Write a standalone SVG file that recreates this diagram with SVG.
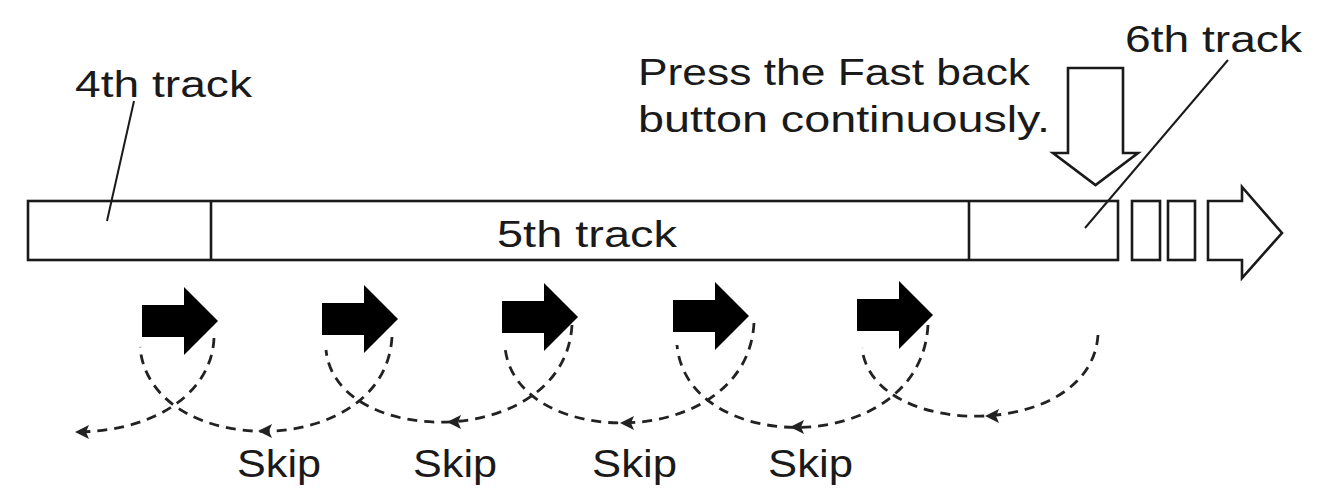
<svg xmlns="http://www.w3.org/2000/svg" width="1335" height="490" viewBox="0 0 1335 490">
  <defs>
    <style>
      .txt { font-family: "Liberation Sans", Arial, sans-serif; font-size: 36px; fill: #1a1a1a; }
      .skip { font-size: 39px; }
      .outline { fill: #fff; stroke: #1a1a1a; stroke-width: 2.6; stroke-linejoin: miter; }
      .lead { fill: none; stroke: #1a1a1a; stroke-width: 2; }
      .dash { fill: none; stroke: #222; stroke-width: 2.8; stroke-dasharray: 10 7; }
      .solid { fill: #000; }
      .head { fill: #222; }
    </style>
    <path id="blk" d="M0 0 H42 V-18 L76 16 L42 50 V32 H0 Z"/>
    <path id="ah" d="M0 0 L14 -7 L11 0 L14 7 Z"/>
  </defs>
  <rect width="1335" height="490" fill="#fff"/>

  <g id="track-bar">
    <rect class="outline" x="28" y="201" width="1090" height="59"/>
    <line class="outline" x1="211" y1="201" x2="211" y2="260"/>
    <line class="outline" x1="969" y1="201" x2="969" y2="260"/>
  </g>
  <g id="more-boxes">
    <rect class="outline" x="1132" y="201" width="28" height="59"/>
    <rect class="outline" x="1168" y="201" width="27" height="59"/>
  </g>
  <g id="forward-arrow">
    <path class="outline" d="M1208 201 H1242 V187 L1282 233 L1242 278 V260 H1208 Z"/>
  </g>
  <g id="press-arrow">
    <path class="outline" d="M1068 68 H1123 V153 H1138 L1095.5 185 L1053 153 H1068 Z"/>
  </g>

  <g id="labels">
    <text class="txt" x="75" y="97" textLength="177" lengthAdjust="spacingAndGlyphs">4th track</text>
    <text class="txt" x="497" y="247" textLength="180" lengthAdjust="spacingAndGlyphs">5th track</text>
    <text class="txt" x="1125" y="52" textLength="177" lengthAdjust="spacingAndGlyphs">6th track</text>
    <text class="txt" x="638" y="85" textLength="392" lengthAdjust="spacingAndGlyphs">Press the Fast back</text>
    <text class="txt" x="638" y="132" textLength="412" lengthAdjust="spacingAndGlyphs">button continuously.</text>
    <text class="txt skip" x="237" y="477" textLength="84" lengthAdjust="spacingAndGlyphs">Skip</text>
    <text class="txt skip" x="413" y="477" textLength="84" lengthAdjust="spacingAndGlyphs">Skip</text>
    <text class="txt skip" x="592" y="477" textLength="85" lengthAdjust="spacingAndGlyphs">Skip</text>
    <text class="txt skip" x="768" y="477" textLength="85" lengthAdjust="spacingAndGlyphs">Skip</text>
  </g>

  <g id="play-arrows">
    <use href="#blk" class="solid" x="142" y="305"/>
    <use href="#blk" class="solid" x="322" y="303"/>
    <use href="#blk" class="solid" x="502" y="301"/>
    <use href="#blk" class="solid" x="673" y="300"/>
    <use href="#blk" class="solid" x="857" y="299"/>
  </g>

  <g id="connectors">
    <line class="lead" x1="134" y1="101" x2="107" y2="221"/>
    <line class="lead" x1="1228" y1="60" x2="1085" y2="228"/>
    <path class="dash" d="M214 338 C212 390 160 430 80 432"/>
    <path class="dash" d="M392 337 C385 461 150 461 140 347"/>
    <path class="dash" d="M572 325 C565 450 336 450 326 350"/>
    <path class="dash" d="M754 323 C747 452 515 452 505 347"/>
    <path class="dash" d="M928 325 C921 458 687 458 677 345"/>
    <path class="dash" d="M1098 335 C1091 441 872 441 862 348"/>
    <use href="#ah" class="head" x="75" y="432"/>
    <use href="#ah" class="head" x="258" y="431"/>
    <use href="#ah" class="head" x="447" y="422"/>
    <use href="#ah" class="head" x="620" y="423"/>
    <use href="#ah" class="head" x="790" y="427"/>
    <use href="#ah" class="head" x="985" y="416"/>
  </g>
</svg>
